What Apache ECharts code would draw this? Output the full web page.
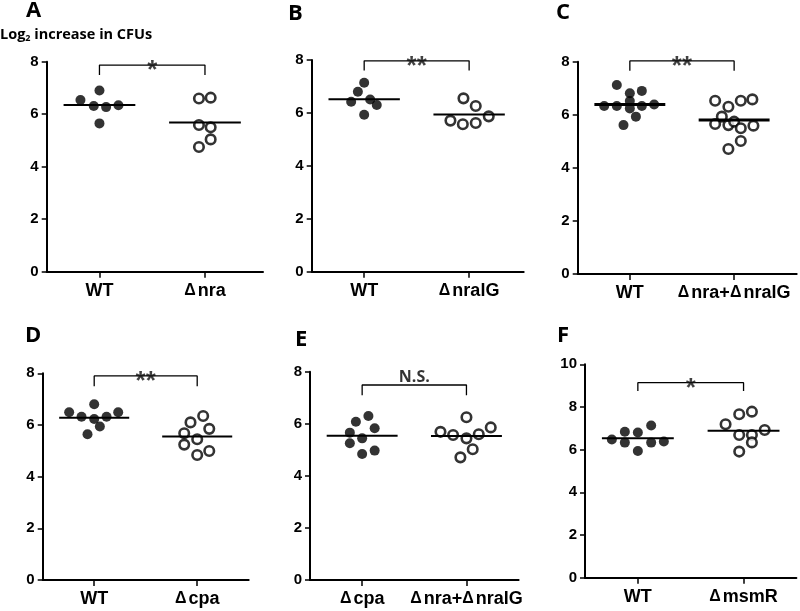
<!DOCTYPE html>
<html><head><meta charset="utf-8">
<script src="https://cdn.jsdelivr.net/npm/echarts@6/dist/echarts.min.js"></script>
<style>html,body{margin:0;padding:0;background:#fff}#c{width:800px;height:611px}</style>
</head><body><div id="c"></div>
<script>
// ---- data ----
const panelLetters = ['A','B','C','D','E','F'];
const catsA = ['WT','Δnra'];
const catsB = ['WT','ΔnralG'];
const catsC = ['WT','Δnra+ΔnralG'];
const catsD = ['WT','Δcpa'];
const catsE = ['Δcpa','Δnra+ΔnralG'];
const catsF = ['WT','ΔmsmR'];

const A_g1 = [6.90, 6.54, 6.31, 6.27, 6.34, 5.65];
const A_g1_jit = [0, -0.18, -0.054, 0.063, 0.18, 0];
const A_g2 = [6.60, 6.63, 5.59, 5.50, 5.04, 4.75];
const A_g2_jit = [-0.057, 0.054, -0.057, 0.054, 0.054, -0.057];
const A_mean = [6.35, 5.68];
const A_sig = '*';

const B_g1 = [7.14, 6.80, 6.42, 6.51, 6.30, 5.93];
const B_g1_jit = [0, -0.06, -0.124, 0.057, 0.12, 0];
const B_g2 = [6.55, 6.26, 5.71, 5.57, 5.62, 5.87];
const B_g2_jit = [-0.054, 0.063, -0.178, -0.06, 0.063, 0.187];
const B_mean = [6.52, 5.94];
const B_sig = '**';

const C_g1 = [7.12, 6.81, 6.90, 6.33, 6.33, 6.52, 6.24, 6.33, 6.39, 5.93, 5.61];
const C_g1_jit = [-0.125, 0, 0.115, -0.246, -0.125, 0, 0, 0.115, 0.233, 0.058, -0.061];
const C_g2 = [6.53, 6.30, 6.53, 6.58, 5.93, 5.65, 5.61, 5.74, 5.49, 5.59, 5.01, 4.71];
const C_g2_jit = [-0.182, -0.055, 0.064, 0.175, -0.118, -0.182, -0.055, 0, 0.064, 0.185, 0.064, -0.055];
const C_mean = [6.39, 5.80];
const C_sig = '**';

const D_g1 = [6.49, 6.32, 6.80, 6.23, 6.32, 6.49, 5.94, 5.64];
const D_g1_jit = [-0.243, -0.123, 0, 0, 0.12, 0.233, 0.055, -0.065];
const D_g2 = [6.35, 6.10, 5.85, 5.68, 5.45, 5.24, 4.99, 4.84];
const D_g2_jit = [0.058, -0.065, 0.117, -0.126, 0, -0.126, 0.117, 0];
const D_mean = [6.28, 5.55];
const D_sig = '**';

const E_g1 = [6.30, 6.08, 5.83, 5.66, 5.44, 5.25, 4.97, 4.84];
const E_g1_jit = [0.06, -0.06, 0.12, -0.118, 0, -0.118, 0.12, 0];
const E_g2 = [6.25, 5.69, 5.57, 5.44, 5.60, 5.86, 5.02, 4.71];
const E_g2_jit = [0, -0.249, -0.128, 0, 0.118, 0.233, 0.06, -0.058];
const E_mean = [5.54, 5.53];
const E_sig = 'N.S.';

const F_g1 = [7.13, 6.84, 6.80, 6.48, 6.33, 6.33, 6.38, 5.94];
const F_g1_jit = [0.126, -0.123, 0, -0.246, -0.123, 0.126, 0.246, 0];
const F_g2 = [7.78, 7.66, 7.19, 6.92, 6.69, 6.69, 6.34, 5.91];
const F_g2_jit = [0.079, -0.041, -0.17, 0.2, -0.041, 0.079, 0.079, -0.041];
const F_mean = [6.53, 6.89];
const F_sig = '*';

// bracket heights [top, leg bottom] in data units
const A_br = [7.87, 7.49];
const B_br = [7.97, 7.60];
const C_br = [8.03, 7.66];
const D_br = [7.90, 7.50];
const E_br = [7.49, 7.10];
const F_br = [9.14, 8.75];

const yMaxs = [8, 8, 8, 8, 8, 10];

// ---- layout (pixels) ----
const layout = [
  {left: 46.7, top: 61.7, width: 216.3, height: 210, xmax: 2.55, lx: 26, ly: 0},
  {left: 311.7, top: 60, width: 212, height: 211.7, xmax: 2.52, lx: 288, ly: 3},
  {left: 577.7, top: 61.7, width: 219, height: 212.3, xmax: 2.6, lx: 556, ly: 2},
  {left: 42.7, top: 373.3, width: 206, height: 206.7, xmax: 2.5, lx: 25, ly: 325},
  {left: 310, top: 371.7, width: 208.6, height: 208.3, xmax: 2.5, lx: 295, ly: 329},
  {left: 585, top: 364.3, width: 211.4, height: 213.4, xmax: 2.5, lx: 557, ly: 325}
];

const panels = [
  {cats: catsA, g1: A_g1, j1: A_g1_jit, g2: A_g2, j2: A_g2_jit, mean: A_mean, sig: A_sig, br: A_br},
  {cats: catsB, g1: B_g1, j1: B_g1_jit, g2: B_g2, j2: B_g2_jit, mean: B_mean, sig: B_sig, br: B_br},
  {cats: catsC, g1: C_g1, j1: C_g1_jit, g2: C_g2, j2: C_g2_jit, mean: C_mean, sig: C_sig, br: C_br},
  {cats: catsD, g1: D_g1, j1: D_g1_jit, g2: D_g2, j2: D_g2_jit, mean: D_mean, sig: D_sig, br: D_br},
  {cats: catsE, g1: E_g1, j1: E_g1_jit, g2: E_g2, j2: E_g2_jit, mean: E_mean, sig: E_sig, br: E_br},
  {cats: catsF, g1: F_g1, j1: F_g1_jit, g2: F_g2, j2: F_g2_jit, mean: F_mean, sig: F_sig, br: F_br}
];

const AX_FONT = '"Liberation Sans", Arial, sans-serif';
const TXT_FONT = '"Open Sans", Lato, sans-serif';

function catLabel(s) {
  return s.split('Δ').map((part, k) => (k === 0 ? (part ? '{t|' + part + '}' : '') : '{d|Δ}' + (part ? '{t|' + part + '}' : ''))).join('');
}

const grid = [], xAxis = [], yAxis = [], series = [], title = [];

panels.forEach((p, i) => {
  const L = layout[i];
  grid.push({left: L.left, top: L.top, width: L.width, height: L.height, containLabel: false});
  xAxis.push({
    gridIndex: i, type: 'value', min: 0.5, max: L.xmax,
    axisLine: {show: true, onZero: false, lineStyle: {color: '#000', width: 2}},
    splitLine: {show: false},
    axisTick: {show: true, customValues: [1, 2], length: 6, lineStyle: {color: '#000', width: 1.5}},
    axisLabel: {
      show: true, customValues: [1, 2], margin: 10,
      formatter: v => catLabel(p.cats[Math.round(v) - 1]),
      rich: {
        t: {fontFamily: AX_FONT, fontWeight: 'bold', fontSize: 18, color: '#000'},
        d: {fontFamily: AX_FONT, fontWeight: 'bold', fontSize: 16, color: '#000', padding: [0, 2, 0, 0]}
      }
    }
  });
  yAxis.push({
    gridIndex: i, type: 'value', min: 0, max: yMaxs[i], interval: 2,
    axisLine: {show: true, lineStyle: {color: '#000', width: 2}},
    axisTick: {show: true, length: 5, lineStyle: {color: '#000', width: 1.5}},
    splitLine: {show: false},
    axisLabel: {show: true, margin: 8, color: '#000', fontFamily: AX_FONT, fontWeight: 'bold', fontSize: 15}
  });
  // filled points
  series.push({
    type: 'scatter', xAxisIndex: i, yAxisIndex: i, symbol: 'circle', symbolSize: 10, clip: false,
    itemStyle: {color: '#000'}, z: 2, silent: true,
    data: p.g1.map((v, k) => [1 + p.j1[k], v])
  });
  // open points
  series.push({
    type: 'scatter', xAxisIndex: i, yAxisIndex: i, symbol: 'circle', symbolSize: 9.5, clip: false,
    itemStyle: {color: '#fff', borderColor: '#000', borderWidth: 2.6}, z: 2, silent: true,
    data: p.g2.map((v, k) => [2 + p.j2[k], v])
  });
  // mean lines
  [0, 1].forEach(g => {
    series.push({
      type: 'line', xAxisIndex: i, yAxisIndex: i, symbol: 'none', silent: true, z: 3, clip: false,
      lineStyle: {color: '#000', width: i === 2 ? 3 : 2},
      data: [[g + 1 - 0.34, p.mean[g]], [g + 1 + 0.34, p.mean[g]]]
    });
  });
  // bracket
  series.push({
    type: 'line', xAxisIndex: i, yAxisIndex: i, symbol: 'none', silent: true, z: 3, clip: false,
    lineStyle: {color: '#000', width: 1.3},
    data: [[1, p.br[1]], [1, p.br[0]], [2, p.br[0]], [2, p.br[1]]]
  });
  const isStar = p.sig.indexOf('*') >= 0;
  series.push({
    type: 'scatter', xAxisIndex: i, yAxisIndex: i, symbolSize: 0, silent: true, z: 4, clip: false,
    data: [[1.5, p.br[0]]],
    label: isStar ? {
      show: true, position: 'inside', formatter: p.sig, offset: [0, 6],
      fontFamily: AX_FONT, fontSize: 26, fontWeight: 'bold', color: '#111'
    } : {
      show: true, position: 'top', distance: 0, formatter: p.sig,
      fontFamily: TXT_FONT, fontSize: 16, fontWeight: 'bold', color: '#000'
    }
  });
  title.push({
    text: panelLetters[i], left: L.lx, top: L.ly,
    textStyle: {fontFamily: TXT_FONT, fontWeight: 'bold', fontSize: 22, color: '#000'}, padding: 0
  });
});

title.push({
  text: '{a|Log}{s|2}{a| increase in CFUs}', left: 0, top: 27, padding: 0,
  textStyle: {rich: {
    a: {fontFamily: TXT_FONT, fontWeight: 'bold', fontSize: 14.5, color: '#000'},
    s: {fontFamily: TXT_FONT, fontWeight: 'bold', fontSize: 9, color: '#000', verticalAlign: 'bottom', padding: [7, 0, 0, 0]}
  }}
});

const chart = echarts.init(document.getElementById('c'), null, {renderer: 'canvas'});
chart.setOption({animation: false, title, grid, xAxis, yAxis, series});
</script></body></html>
